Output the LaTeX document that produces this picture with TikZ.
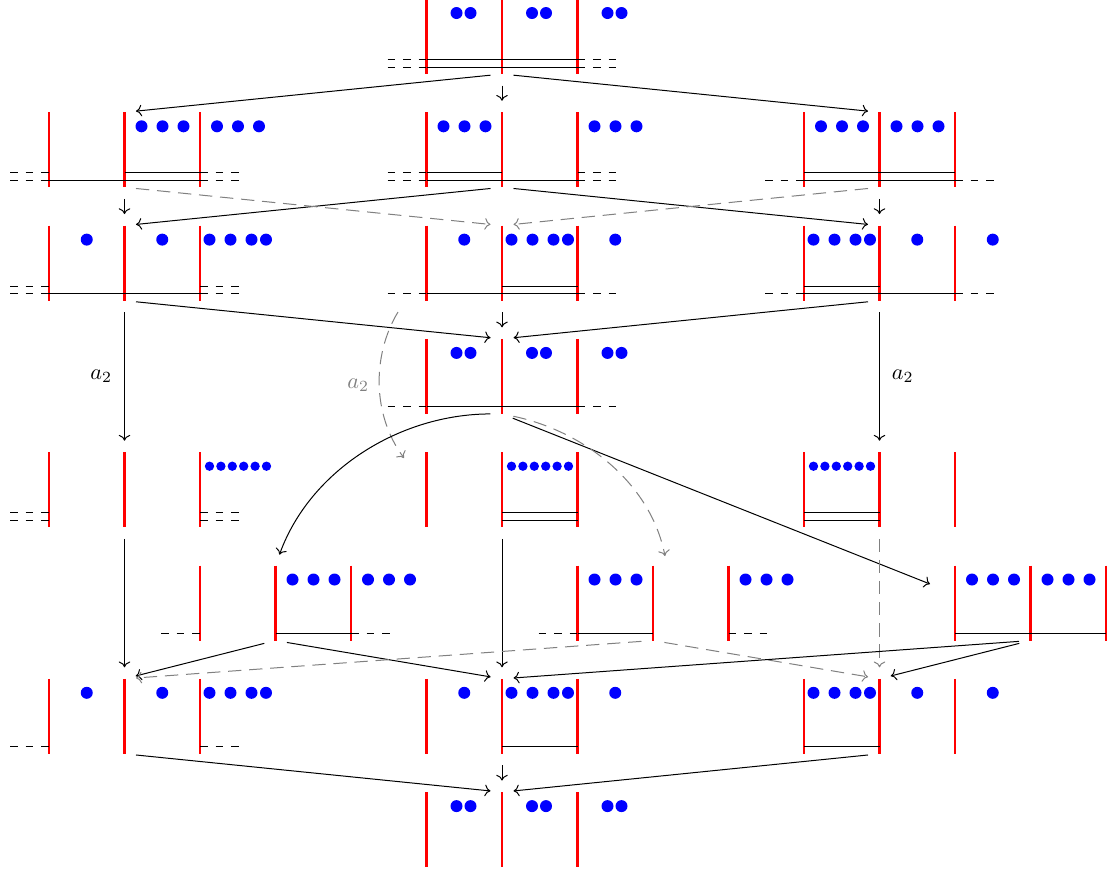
\documentclass[tikz,border=0pt]{standalone}
\usetikzlibrary{arrows.meta}
\newcommand\panel[3]{%
  \foreach \i in {0,1,2}{\draw[redline] ({#2+75.5*\i},{#3}) -- ++(0,75);}
  \node[port] (#1-t) at ({#2+75.5},{#3}) {};
  \node[port] (#1-b) at ({#2+75.5},{#3+75}) {};
}
\newcommand\lst[2]{\draw[stub] ({#1-39},{#2}) -- ({#1},{#2});}
\newcommand\rst[2]{\draw[stub] ({#1+151},{#2}) -- ({#1+190},{#2});}
\newcommand\sg[3]{\draw[hline] ({#1+75.5*(#3-1)},{#2}) -- ({#1+75.5*#3},{#2});}
\newcommand\hln[6]{\ifnum#3=1 \lst{#1}{#2}\fi\ifnum#4=1 \sg{#1}{#2}{1}\fi\ifnum#5=1 \sg{#1}{#2}{2}\fi\ifnum#6=1 \rst{#1}{#2}\fi}
\newcommand\dts[4]{\foreach \q in #4 {\fill[dotc] ({#1+75.5*(#3-1)+\q},{#2+14}) circle (2.7pt);}}
\newcommand\six[3]{\foreach \q in {9.5,20.9,32.3,43.7,55.1,66.5}{\fill[dotc] ({#1+75.5*(#3-1)+\q},{#2+14}) circle (2.1pt);}}
\def\dPR{30,44}
\def\dTH{17,38,59}
\def\dON{37.75}
\def\dFO{9.5,30.5,51.5,66}
\begin{document}
\begin{tikzpicture}[x=0.45pt,y=-0.45pt,
  redline/.style={red, line width=1pt},
  hline/.style={black, line width=0.4pt},
  stub/.style={black, line width=0.4pt, dash pattern=on 3.5pt off 3.5pt},
  dotc/.style={blue},
  port/.style={circle, inner sep=0pt, minimum size=10pt},
  tip/.style={-{To[length=2.6pt,width=5.2pt]}},
  conn/.style={tip, black, line width=0.45pt},
  gconn/.style={tip, gray, line width=0.45pt, dash pattern=on 6pt off 3.5pt},
]
\useasboundingbox (0,0) rectangle (1109,875);

% Row 1
\panel{r1c}{426.5}{-1}
\dts{426.5}{-1}{1}{\dPR}\dts{426.5}{-1}{2}{\dPR}\dts{426.5}{-1}{3}{\dPR}
\hln{426.5}{59.5}{1}{1}{1}{1}
\hln{426.5}{67}{1}{1}{1}{1}

% Row 2
\panel{r2l}{49}{112.3}
\dts{49}{112.3}{2}{\dTH}\dts{49}{112.3}{3}{\dTH}
\hln{49}{172.8}{1}{0}{1}{1}
\hln{49}{180.3}{1}{1}{1}{1}
\panel{r2c}{426.5}{112.3}
\dts{426.5}{112.3}{1}{\dTH}\dts{426.5}{112.3}{3}{\dTH}
\hln{426.5}{172.8}{1}{1}{0}{1}
\hln{426.5}{180.3}{1}{1}{1}{1}
\panel{r2r}{804}{112.3}
\dts{804}{112.3}{1}{\dTH}\dts{804}{112.3}{2}{\dTH}
\hln{804}{172.8}{0}{1}{1}{0}
\hln{804}{180.3}{1}{1}{1}{1}

% Row 3
\panel{r3l}{49}{225.6}
\dts{49}{225.6}{1}{\dON}\dts{49}{225.6}{2}{\dON}\dts{49}{225.6}{3}{\dFO}
\hln{49}{286.1}{1}{0}{0}{1}
\hln{49}{293.6}{1}{1}{1}{1}
\panel{r3c}{426.5}{225.6}
\dts{426.5}{225.6}{1}{\dON}\dts{426.5}{225.6}{2}{\dFO}\dts{426.5}{225.6}{3}{\dON}
\hln{426.5}{286.1}{0}{0}{1}{0}
\hln{426.5}{293.6}{1}{1}{1}{1}
\panel{r3r}{804}{225.6}
\dts{804}{225.6}{1}{\dFO}\dts{804}{225.6}{2}{\dON}\dts{804}{225.6}{3}{\dON}
\hln{804}{286.1}{0}{1}{0}{0}
\hln{804}{293.6}{1}{1}{1}{1}

% Row 4
\panel{r4c}{426.5}{338.9}
\dts{426.5}{338.9}{1}{\dPR}\dts{426.5}{338.9}{2}{\dPR}\dts{426.5}{338.9}{3}{\dPR}
\hln{426.5}{406.9}{1}{1}{1}{1}

% Row 5
\panel{r5l}{49}{452.2}
\six{49}{452.2}{3}
\hln{49}{512.7}{1}{0}{0}{1}
\hln{49}{520.2}{1}{0}{0}{1}
\panel{r5c}{426.5}{452.2}
\six{426.5}{452.2}{2}
\hln{426.5}{512.7}{0}{0}{1}{0}
\hln{426.5}{520.2}{0}{0}{1}{0}
\panel{r5r}{804}{452.2}
\six{804}{452.2}{1}
\hln{804}{512.7}{0}{1}{0}{0}
\hln{804}{520.2}{0}{1}{0}{0}

% Row 6
\panel{r6a}{200}{565.5}
\dts{200}{565.5}{2}{\dTH}\dts{200}{565.5}{3}{\dTH}
\hln{200}{633.5}{1}{0}{1}{1}
\panel{r6b}{577.5}{565.5}
\dts{577.5}{565.5}{1}{\dTH}\dts{577.5}{565.5}{3}{\dTH}
\hln{577.5}{633.5}{1}{1}{0}{1}
\panel{r6c}{955}{565.5}
\dts{955}{565.5}{1}{\dTH}\dts{955}{565.5}{2}{\dTH}
\hln{955}{633.5}{0}{1}{1}{0}

% Row 7
\panel{r7l}{49}{678.8}
\dts{49}{678.8}{1}{\dON}\dts{49}{678.8}{2}{\dON}\dts{49}{678.8}{3}{\dFO}
\hln{49}{746.8}{1}{0}{0}{1}
\panel{r7c}{426.5}{678.8}
\dts{426.5}{678.8}{1}{\dON}\dts{426.5}{678.8}{2}{\dFO}\dts{426.5}{678.8}{3}{\dON}
\hln{426.5}{746.8}{0}{0}{1}{0}
\panel{r7r}{804}{678.8}
\dts{804}{678.8}{1}{\dFO}\dts{804}{678.8}{2}{\dON}\dts{804}{678.8}{3}{\dON}
\hln{804}{746.8}{0}{1}{0}{0}

% Row 8
\panel{r8c}{426.5}{792.1}
\dts{426.5}{792.1}{1}{\dPR}\dts{426.5}{792.1}{2}{\dPR}\dts{426.5}{792.1}{3}{\dPR}

% free ends
\coordinate (a2s) at (398,312);
\coordinate (a2e) at (404,458);
\coordinate (r6bin) at (665,556);
\coordinate (r6cin) at (930,584);

% connectors
\draw[conn] (r1c-b) -- (r2l-t);
\draw[conn] (r1c-b) -- (r2c-t);
\draw[conn] (r1c-b) -- (r2r-t);
\draw[conn] (r2c-b) -- (r3l-t);
\draw[conn] (r2c-b) -- (r3r-t);
\draw[conn] (r2l-b) -- (r3l-t);
\draw[conn] (r2r-b) -- (r3r-t);
\draw[gconn] (r2l-b) -- (r3c-t);
\draw[gconn] (r2r-b) -- (r3c-t);
\draw[conn] (r3l-b) -- (r4c-t);
\draw[conn] (r3r-b) -- (r4c-t);
\draw[conn] (r3c-b) -- (r4c-t);
\draw[conn] (r3l-b) -- node[left=2pt] {$a_2$} (r5l-t);
\draw[conn] (r3r-b) -- node[right=2pt] {$a_2$} (r5r-t);
\draw[gconn] (a2s) .. controls (372,355) and (372,415) .. node[pos=0.5,left=1pt,text=gray] {$a_2$} (a2e);
\draw[conn] (r4c-b) .. controls (400,414) and (310,470) .. (r6a-t);
\draw[conn] (r4c-b) -- (r6cin);
\draw[gconn] (r4c-b) .. controls (580,430) and (650,480) .. (r6bin);
\draw[conn] (r5l-b) -- (r7l-t);
\draw[conn] (r5c-b) -- (r7c-t);
\draw[gconn] (r5r-b) -- (r7r-t);
\draw[conn] (r6a-b) -- (r7l-t);
\draw[conn] (r6a-b) -- (r7c-t);
\draw[gconn] (r6b-b) -- (r7l-t);
\draw[gconn] (r6b-b) -- (r7r-t);
\draw[conn] (r6c-b) -- (r7c-t);
\draw[conn] (r6c-b) -- (r7r-t);
\draw[conn] (r7l-b) -- (r8c-t);
\draw[conn] (r7r-b) -- (r8c-t);
\draw[conn] (r7c-b) -- (r8c-t);
\end{tikzpicture}
\end{document}
